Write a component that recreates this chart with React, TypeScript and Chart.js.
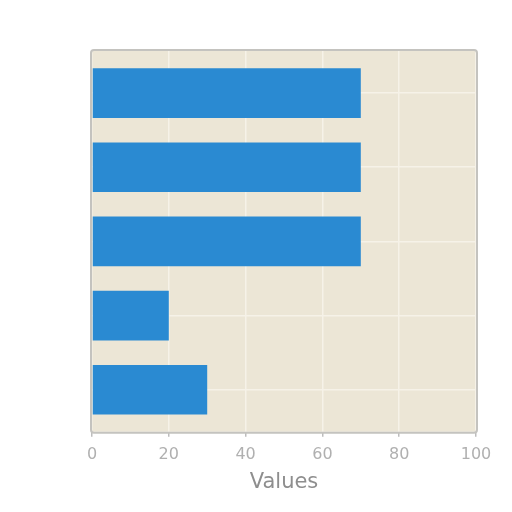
import { useEffect, useRef } from "react";
import { Chart, registerables } from "chart.js";

Chart.register(...registerables);

const categories = ["A", "B", "C", "D", "E"];
const values = [70, 70, 70, 20, 30];
const xTicks = [0, 20, 40, 60, 80, 100];

// plot background and frame, drawn behind the bars
const plotBackground = {
  id: "plotBackground",
  beforeDraw(chart: Chart) {
    const { ctx, chartArea } = chart;
    if (!chartArea) return;
    const { left, top, width, height } = chartArea;
    ctx.save();
    ctx.fillStyle = "#ece6d6";
    ctx.fillRect(left, top, width, height);
    ctx.restore();
  },
  afterDraw(chart: Chart) {
    const { ctx, chartArea } = chart;
    if (!chartArea) return;
    const { left, top, width, height } = chartArea;
    ctx.save();
    ctx.strokeStyle = "#c4c3bf";
    ctx.lineWidth = 2;
    ctx.beginPath();
    ctx.roundRect(left - 1, top - 1, width + 2, height + 2, 3);
    ctx.stroke();
    ctx.restore();
  },
};

export default function App() {
  const chartRef = useRef<HTMLCanvasElement>(null);
  const chartInstance = useRef<Chart | null>(null);

  useEffect(() => {
    if (!chartRef.current) return;
    if (chartInstance.current) chartInstance.current.destroy();
    const ctx = chartRef.current.getContext("2d");
    if (!ctx) return;

    // bars sit at numeric positions 0..n-1 like a matplotlib barh
    const points = values.map((v, i) => ({ x: v, y: i }));
    const n = categories.length;

    chartInstance.current = new Chart(ctx, {
      type: "bar",
      data: {
        labels: categories,
        datasets: [
          {
            label: "Values",
            data: points as any,
            backgroundColor: "#2a8ad2",
            borderWidth: 0,
            barPercentage: 0.67,
            categoryPercentage: 1,
          },
        ],
      },
      plugins: [plotBackground],
      options: {
        indexAxis: "y",
        animation: false,
        responsive: true,
        maintainAspectRatio: false,
        layout: { padding: { left: 92, top: 51, right: 36, bottom: 19 } },
        plugins: {
          legend: { display: false },
          tooltip: { enabled: false },
        },
        scales: {
          x: {
            type: "linear",
            min: 0,
            max: 100,
            afterBuildTicks: (axis: any) => {
              axis.ticks = xTicks.map((v) => ({ value: v }));
            },
            border: { display: false },
            grid: {
              color: "#f6f2e8",
              lineWidth: 1.5,
              tickColor: "#bdbdbd",
              tickLength: 5,
            },
            ticks: {
              color: "#b0b0b0",
              padding: 8,
              font: { family: "'DejaVu Sans', sans-serif", size: 16 },
            },
            title: {
              display: true,
              text: "Values",
              color: "#8e8e8e",
              padding: { top: 0, bottom: 0 },
              font: { family: "'DejaVu Sans', sans-serif", size: 21, lineHeight: 1 },
            },
          },
          y: {
            type: "linear",
            reverse: true,
            offset: false,
            min: -0.567,
            max: n - 1 + 0.567,
            afterBuildTicks: (axis: any) => {
              axis.ticks = categories.map((_, i) => ({ value: i }));
            },
            border: { display: false },
            grid: { color: "#f6f2e8", lineWidth: 1.5, drawTicks: false, offset: false },
            ticks: { display: false },
          },
        },
      },
    });

    return () => {
      if (chartInstance.current) {
        chartInstance.current.destroy();
        chartInstance.current = null;
      }
    };
  }, []);

  return (
    <div style={{ position: "fixed", left: 0, top: 0, width: 512, height: 512, background: "#ffffff" }}>
      <canvas ref={chartRef}></canvas>
    </div>
  );
}
